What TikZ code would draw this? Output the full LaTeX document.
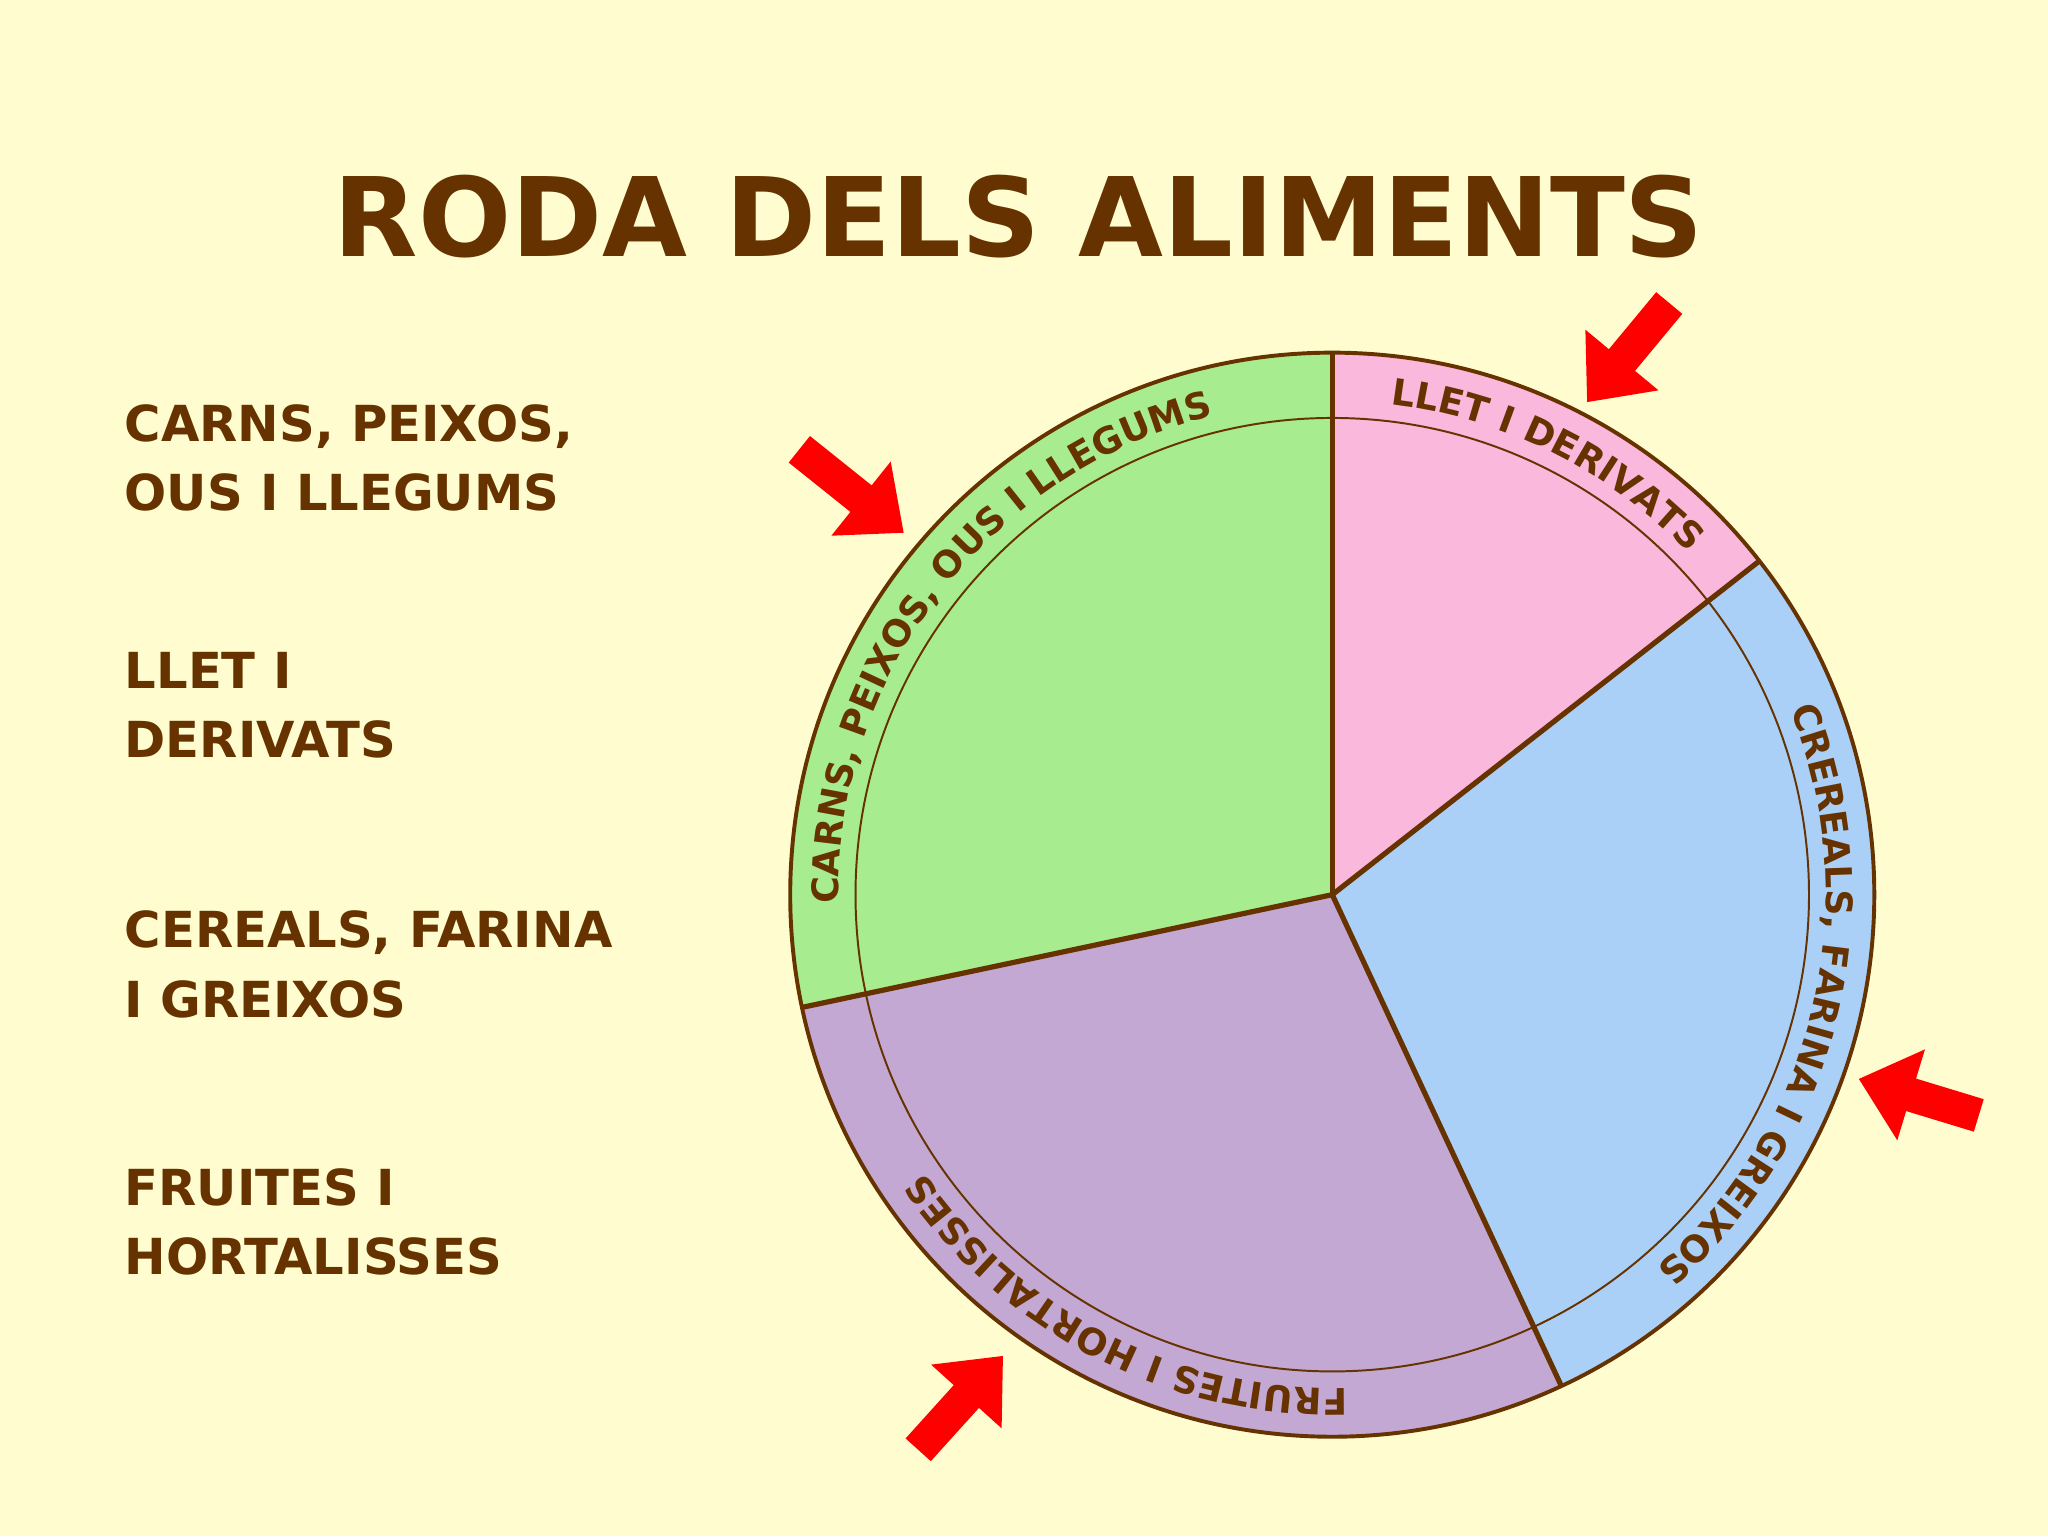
\documentclass[tikz,border=0pt]{standalone}
\usepackage{fontspec}
\setmainfont{DejaVu Sans}
\usetikzlibrary{decorations.text,arrows.meta}
\definecolor{bg}{HTML}{FFFDD0}
\definecolor{brn}{HTML}{663300}
\definecolor{pk}{HTML}{F9B8DC}
\definecolor{bl}{HTML}{AAD0F8}
\definecolor{pu}{HTML}{C4A8D4}
\definecolor{gr}{HTML}{A8EC90}
\newcommand{\arcfnt}{\fontsize{28}{28}\selectfont\bfseries\color{brn}}
\tikzset{
  lab/.style={anchor=north west,align=left,text=brn,font=\fontsize{38}{53}\selectfont\bfseries},
  redarr/.style={red,line width=26pt,-{Triangle[width=70pt,length=42pt]}},
  arctext/.style={decorate,decoration={text along path,text align=center,text={#1}}}
}
\begin{document}
\begin{tikzpicture}[x=1pt,y=1pt]
\fill[bg] (0,0) rectangle (1568,1176);
\useasboundingbox (0,0) rectangle (1568,1176);
\node[text=brn,font=\fontsize{84}{84}\selectfont\bfseries] (title) at (780,1010) {RODA DELS ALIMENTS};
\node[lab] (l1) at (92,870) {CARNS, PEIXOS,\\OUS I LLEGUMS};
\node[lab] (l2) at (92,680) {LLET I\\DERIVATS};
\node[lab] (l3) at (92,482) {CEREALS, FARINA\\I GREIXOS};
\node[lab] (l4) at (92,285) {FRUITES I\\HORTALISSES};
\coordinate (C) at (1020,491);
\fill[pk] (C) -- ++(90:415) arc (90:38:415) -- cycle;
\fill[bl] (C) -- ++(38:415) arc (38:-65:415) -- cycle;
\fill[pu] (C) -- ++(-65:415) arc (-65:-168:415) -- cycle;
\fill[gr] (C) -- ++(192:415) arc (192:90:415) -- cycle;
\draw[brn,line width=1.5pt] (C) circle (365);
\draw[brn,line width=3pt] (C) circle (415);
\foreach \a in {90,38,-65,192} \draw[brn,line width=4pt] (C) -- ++(\a:415);
\path[arctext={|\arcfnt|CARNS, PEIXOS, OUS I LLEGUMS}] (C) ++(189:378) arc (189:96:378);
\path[arctext={|\arcfnt|LLET I DERIVATS}] (C) ++(86:378) arc (86:41:378);
\path[arctext={|\arcfnt|CREREALS, FARINA I GREIXOS}] (C) ++(30:378) arc (30:-57:378);
\path[arctext={|\arcfnt|FRUITES I HORTALISSES}] (C) ++(-84:378) arc (-84:-150:378);
\draw[redarr] (1278,944) -- (1215,868);
\draw[redarr] (612,832) -- (692,768);
\draw[redarr] (1515,322) -- (1423,350);
\draw[redarr] (703,66) -- (768,138);
\end{tikzpicture}
\end{document}
